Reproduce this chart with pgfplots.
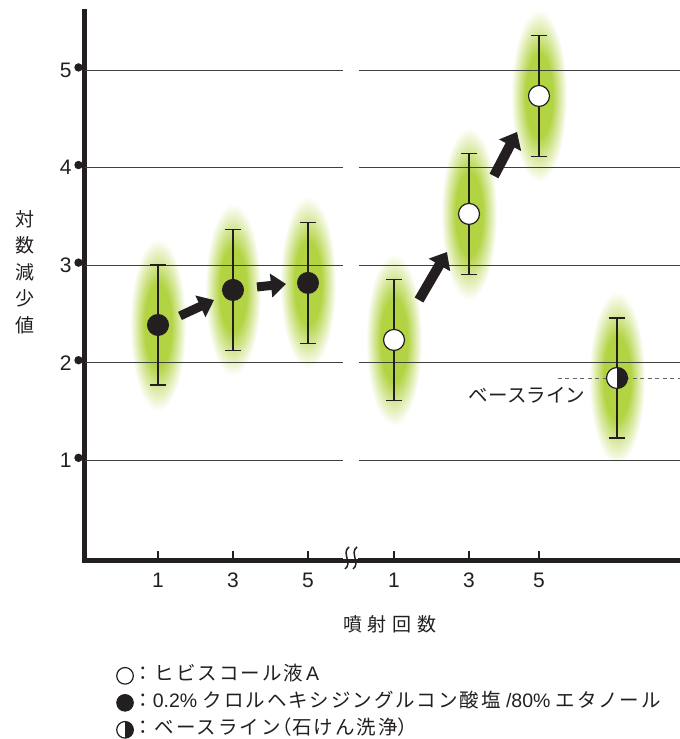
\documentclass[border=0pt]{standalone}
\usepackage{fontspec}
\setmainfont{Liberation Sans}
\newfontfamily\jp{Noto Sans CJK JP}
\newfontfamily\jpl[LetterSpace=10]{Noto Sans CJK JP}
\usepackage{pgfplots}
\pgfplotsset{compat=1.18}
\usetikzlibrary{arrows.meta}
\definecolor{glowgreen}{RGB}{178,211,66}
\definecolor{ink}{RGB}{35,31,32}
\pgfdeclareradialshading{glow}{\pgfpoint{0bp}{0bp}}{color(0bp)=(glowgreen); color(12bp)=(glowgreen); color(25bp)=(white); color(50bp)=(white)}
\pgfdeclareplotmark{glowmark}{%
  \pgfpathellipse{\pgfpointorigin}{\pgfqpoint{28pt}{0pt}}{\pgfqpoint{0pt}{86pt}}%
  \pgfshadepath{glow}{0}%
  \pgfusepath{discard}%
}
\pgfdeclareplotmark{halfcirc}{%
  \pgfpathcircle{\pgfpointorigin}{\pgfplotmarksize}%
  \pgfsetfillcolor{white}\pgfusepathqfill
  \pgfpathmoveto{\pgfqpoint{0pt}{\pgfplotmarksize}}%
  \pgfpatharc{90}{-90}{\pgfplotmarksize}%
  \pgfpathclose
  \pgfsetfillcolor{ink}\pgfusepathqfill
  \pgfpathcircle{\pgfpointorigin}{\pgfplotmarksize}%
  \pgfusepathqstroke
}
\newcommand\fs[2]{\fontsize{#1}{#2}\selectfont}

\pgfplotstableread{
xx yy err
1 2.387 0.615
2 2.746 0.62
3 2.818 0.62
}\tabblack
\pgfplotstableread{
xx yy err
4.147 2.234 0.62
5.147 3.525 0.62
6.080 4.734 0.62
}\tabwhite
\pgfplotstableread{
xx yy err
7.12 1.844 0.615
}\tabbase
\pgfplotstableread{
xx yy
1 2.387
2 2.746
3 2.818
4.147 2.234
5.147 3.525
6.080 4.734
7.12 1.844
}\taball

\begin{document}
\begin{tikzpicture}
\begin{axis}[
  at={(85pt,178.5pt)}, anchor=south west,
  scale only axis, width=595pt, height=548.5pt,
  xmin=0.0267, xmax=7.96, ymin=-0.026, ymax=5.594,
  axis x line=bottom, axis y line=left,
  axis line style={line width=5pt, ink, -, line cap=rect},
  clip=false, clip mode=individual,
  xtick={1,2,3,4.147,5.147,6.08}, xticklabels={1,3,5,1,3,5},
  ytick={1,2,3,4,5},
  tick align=inside,
  major tick length=10pt,
  x tick style={line width=1.4pt, ink},
  y tick style={draw=none},
  tick label style={font=\fs{21}{21}, text=ink},
  /pgf/number format/assume math mode=true,
  xticklabel style={yshift=-9pt},
  yticklabel style={xshift=-10pt},
  xlabel={噴\hspace{6pt}射\hspace{6pt}回\hspace{6pt}数},
  xlabel style={at={(axis description cs:0.5126,-0.1158)}, anchor=center, font=\fs{19}{19}\jp, text=ink},
  ylabel={対\\数\\減\\少\\値},
  ylabel style={at={(axis description cs:-0.1008,0.526)}, anchor=center, rotate=-90, align=center, font=\fs{19}{26.5}\jp, text=ink},
  legend style={at={(axis description cs:0.053,-0.1935)}, anchor=north west, draw=none, fill=none, inner sep=0pt,
    font=\fs{19.5}{19.5}, text=ink, row sep=9pt,
    nodes={inner sep=0pt, text height=14pt, text depth=4pt},
    /tikz/every odd column/.append style={column sep=0pt}},
  legend cell align=left,
  legend image code/.code={\draw[#1, mark size=8.3pt] plot coordinates {(8.5pt,0pt)};},
]
% glow ellipses
\addplot[forget plot, only marks, mark=glowmark] table[x=xx, y=yy] {\taball};
% grid lines and y tick dots
\pgfplotsinvokeforeach{1,2,3,4,5}{
  \draw[line width=0.9pt, black!75] (axis cs:0.0267,#1) -- (axis cs:3.467,#1);
  \draw[line width=0.9pt, black!75] (axis cs:3.68,#1) -- (axis cs:7.96,#1);
  \fill[ink] (axis cs:0.0267,#1) ++(-4.5pt,0) circle (4.2pt);
}
% axis break
\fill[white] (axis cs:3.49,0) ++(0,-4pt) rectangle ([yshift=4pt]axis cs:3.66,0);
\draw[line width=1.5pt, ink] ([xshift=2pt,yshift=11pt]axis cs:3.52,0) .. controls +(-8pt,-6pt) and +(8pt,6pt) .. ([xshift=-2pt,yshift=-11pt]axis cs:3.52,0);
\draw[line width=1.5pt, ink] ([xshift=2pt,yshift=11pt]axis cs:3.627,0) .. controls +(-8pt,-6pt) and +(8pt,6pt) .. ([xshift=-2pt,yshift=-11pt]axis cs:3.627,0);
% baseline dashed
\addplot[forget plot, black!60, line width=0.9pt, dash pattern=on 4pt off 3.5pt] coordinates {(6.33,1.844) (7.96,1.844)};
\node[font=\fs{19.5}{19.5}\jp, text=ink] at (axis cs:5.92,1.67) {ベースライン};
% arrows
\draw[line width=9pt, ink, -{Triangle[length=15pt,width=23pt]}] (axis cs:1.293,2.48) -- (axis cs:1.747,2.643);
\draw[line width=9pt, ink, -{Triangle[length=15pt,width=23pt]}] (axis cs:2.32,2.777) -- (axis cs:2.707,2.807);
\draw[line width=10pt, ink, -{Triangle[length=15pt,width=24pt]}] (axis cs:4.48,2.643) -- (axis cs:4.853,3.135);
\draw[line width=10pt, ink, -{Triangle[length=15pt,width=24pt]}] (axis cs:5.48,3.914) -- (axis cs:5.787,4.365);
% series
\addplot[only marks, mark=*, mark size=10.5pt, mark options={fill=white, draw=ink, line width=1.2pt},
  error bars/.cd, y dir=both, y explicit, error bar style={line width=1.2pt, ink},
  error mark options={rotate=90, mark size=8pt, line width=1.2pt, ink}]
  table[x=xx, y=yy, y error=err] {\tabwhite};
\addlegendentry{{\jpl ：ヒビスコール液}\,A}
\addplot[only marks, mark=*, mark size=10.5pt, mark options={fill=ink, draw=ink, line width=1pt},
  error bars/.cd, y dir=both, y explicit, error bar style={line width=1.2pt, ink},
  error mark options={rotate=90, mark size=8pt, line width=1.2pt, ink}]
  table[x=xx, y=yy, y error=err] {\tabblack};
\addlegendentry{{\jpl ：}0.2\% {\jpl クロルヘキシジングルコン酸塩} /80\% {\jpl エタノール}}
\addplot[only marks, mark=halfcirc, mark size=10.5pt, mark options={draw=ink, line width=1.2pt},
  error bars/.cd, y dir=both, y explicit, error bar style={line width=1.2pt, ink},
  error mark options={rotate=90, mark size=8pt, line width=1.2pt, ink}]
  table[x=xx, y=yy, y error=err] {\tabbase};
\addlegendentry{{\jpl ：ベースライン\makebox[0.6em][r]{（}石けん洗浄\makebox[0.6em][l]{）}}}
\end{axis}
\pgfresetboundingbox
\path[use as bounding box] (0,0) rectangle (680pt,739pt);
\end{tikzpicture}
\end{document}
